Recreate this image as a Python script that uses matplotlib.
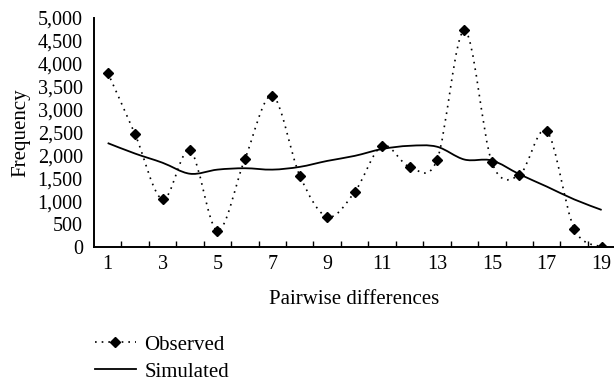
import numpy as np
import matplotlib
matplotlib.use("Agg")
import matplotlib.pyplot as plt
from matplotlib.path import Path
from matplotlib.patches import PathPatch
from matplotlib.lines import Line2D

plt.rcParams["font.family"] = ["Liberation Serif", "DejaVu Serif"]

# data
diffs = np.arange(1, 20)
observed = [3810, 2460, 1040, 2110, 360, 1920, 3300, 1560, 660, 1200,
            2210, 1750, 1900, 4730, 1850, 1570, 2530, 400, 0]
simulated = [2270, 2040, 1840, 1600, 1690, 1720, 1690, 1750, 1880, 1990,
             2140, 2210, 2190, 1910, 1890, 1590, 1320, 1040, 810]
ytick_vals = np.arange(0, 5001, 500)


def smooth_path(x, y):
    # Excel-style smoothed line: Catmull-Rom segments as cubic Beziers
    p = np.column_stack([x, y]).astype(float)
    verts, codes = [p[0]], [Path.MOVETO]
    n = len(p)
    for i in range(n - 1):
        p0 = p[i - 1] if i > 0 else p[i]
        p3 = p[i + 2] if i + 2 < n else p[i + 1]
        c1 = p[i] + (p[i + 1] - p0) / 6
        c2 = p[i + 1] - (p3 - p[i]) / 6
        verts += [c1, c2, p[i + 1]]
        codes += [Path.CURVE4] * 3
    return Path(verts, codes)


fig = plt.figure(figsize=(6.14, 3.83), dpi=100)
ax = fig.add_axes([0.153, 0.355, 0.847, 0.598])

ax.add_patch(PathPatch(smooth_path(diffs, observed), fill=False, color="black",
                       lw=1.2, ls=(0, (1, 3)), transform=ax.transData))
ax.plot(diffs, observed, ls="none", marker="D", ms=5, color="black")
ax.add_patch(PathPatch(smooth_path(diffs, simulated), fill=False, color="black",
                       lw=1.3, transform=ax.transData))

ax.set_xlim(0.5, 19.45)
ax.set_ylim(0, 5000)
ax.set_yticks(ytick_vals)
ax.set_yticklabels([f"{v:,}" for v in ytick_vals])
ax.set_xticks(diffs[::2])
ax.set_xticks(np.arange(1.5, 19.5, 1), minor=True)
ax.tick_params(axis="y", length=0, labelsize=14.5, pad=8)
ax.tick_params(axis="x", which="major", length=0, labelsize=14.5, pad=6)
ax.tick_params(axis="x", which="minor", direction="in", length=4, width=1)
for s in ["top", "right"]:
    ax.spines[s].set_visible(False)
for s in ["left", "bottom"]:
    ax.spines[s].set_linewidth(1.4)
ax.set_xlabel("Pairwise differences", fontsize=15, labelpad=11)
ax.set_ylabel("Frequency", fontsize=15, labelpad=5)

handles = [Line2D([], [], color="black", lw=1.2, ls=(0, (1, 3)), marker="D", ms=5),
           Line2D([], [], color="black", lw=1.3)]
fig.legend(handles, ["Observed", "Simulated"], loc="upper left",
           bbox_to_anchor=(0.137, 0.152), frameon=False, fontsize=15,
           handlelength=2.0, handletextpad=0.4, labelspacing=0.35, borderpad=0)

fig.savefig("out.png", dpi=100)
